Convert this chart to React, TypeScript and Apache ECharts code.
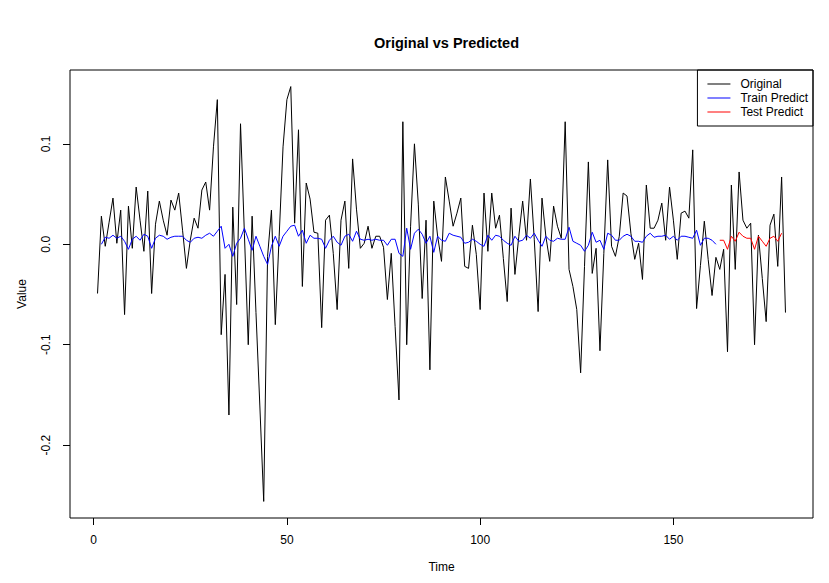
import React, { useEffect, useRef } from "react";
import * as echarts from "echarts";

const original = [
  -0.049, 0.028, -0.002, 0.022, 0.046, 0.001, 0.034, -0.070, 0.038, -0.004,
  0.057, 0.024, -0.007, 0.053, -0.049, 0.020, 0.043, 0.024, 0.009, 0.044,
  0.034, 0.051, 0.014, -0.024, 0.004, 0.026, 0.016, 0.054, 0.062, 0.034,
  0.097, 0.144, -0.090, -0.030, -0.170, 0.037, -0.060, 0.120, 0.011, -0.100,
  0.028, -0.068, -0.161, -0.256, -0.012, 0.034, -0.080, 0.008, 0.097, 0.144,
  0.157, 0.021, 0.114, -0.042, 0.061, 0.045, 0.012, 0.011, -0.083, 0.024,
  0.029, -0.009, -0.065, 0.024, 0.043, -0.024, 0.085, 0.035, -0.004, 0.001,
  0.018, -0.004, 0.008, 0.008, -0.003, -0.055, -0.009, -0.082, -0.155, 0.122,
  -0.100, 0.018, 0.100, 0.040, -0.054, 0.024, -0.125, 0.043, 0.008, -0.017,
  0.067, 0.043, 0.018, 0.031, 0.046, -0.022, -0.024, 0.019, -0.010, -0.065,
  0.051, -0.007, 0.051, 0.016, 0.029, -0.014, -0.057, 0.036, -0.030, 0.008,
  0.043, 0.004, 0.065, 0.005, -0.067, 0.046, 0.008, -0.017, 0.038, 0.018,
  0.006, 0.122, -0.025, -0.042, -0.065, -0.128, -0.022, 0.082, -0.029, -0.004,
  -0.106, -0.009, 0.084, -0.002, -0.012, 0.008, 0.051, 0.048, 0.011, -0.015,
  0.001, -0.035, 0.059, 0.016, 0.016, 0.024, 0.041, 0.004, 0.057, 0.024,
  -0.015, 0.031, 0.033, 0.026, 0.094, -0.064, -0.021, 0.023, -0.015, -0.051,
  -0.013, -0.025, -0.005, -0.107, 0.059, -0.025, 0.072, 0.024, 0.016, 0.021,
  -0.100, 0.009, -0.034, -0.077, 0.019, 0.030, -0.022, 0.067, -0.068,
];

const trainStart = 2;
const trainPredict = [
  0.000, 0.007, 0.006, 0.009, 0.006, 0.008, 0.003, -0.005, 0.005, 0.008,
  0.004, 0.010, 0.008, -0.004, 0.006, 0.009, 0.008, 0.005, 0.007, 0.008,
  0.008, 0.008, 0.004, 0.002, 0.006, 0.007, 0.006, 0.009, 0.011, 0.008,
  0.013, 0.018, -0.004, 0.000, -0.012, 0.001, 0.006, 0.016, 0.005, -0.006,
  0.008, -0.002, -0.012, -0.020, -0.002, 0.008, -0.002, 0.008, 0.013, 0.018,
  0.019, 0.008, 0.014, 0.001, 0.009, 0.006, 0.006, 0.005, -0.004, 0.004,
  0.008, 0.002, -0.001, 0.008, 0.010, 0.003, 0.013, 0.005, 0.004, 0.005,
  0.004, 0.005, 0.004, 0.004, -0.001, 0.005, 0.005, -0.009, -0.012, 0.016,
  -0.005, 0.011, 0.015, 0.010, 0.001, 0.008, -0.008, 0.008, 0.004, 0.003,
  0.011, 0.009, 0.008, 0.007, 0.001, 0.002, 0.005, 0.003, 0.000, -0.002,
  0.009, 0.004, 0.009, 0.008, 0.004, 0.001, -0.001, 0.008, 0.003, 0.004,
  0.009, 0.006, 0.011, 0.004, -0.002, 0.008, 0.004, 0.003, 0.006, 0.005,
  0.005, 0.017, 0.003, 0.001, -0.001, -0.007, -0.001, 0.012, 0.002, 0.004,
  -0.005, 0.011, 0.009, 0.004, 0.004, 0.008, 0.010, 0.008, 0.003, 0.003,
  0.002, 0.008, 0.011, 0.007, 0.008, 0.008, 0.009, 0.005, 0.008, 0.004,
  0.008, 0.008, 0.007, 0.006, 0.014, -0.001, 0.006, 0.006, 0.004, 0.000,
];

const testStart = 162;
const testPredict = [
  0.004, 0.004, -0.005, 0.008, 0.003, 0.012, 0.008, 0.006, 0.006, -0.005,
  0.008, 0.003, -0.002, 0.006, 0.008, 0.003, 0.011,
];

const xTicks = [0, 50, 100, 150];
const yTicks = [-0.2, -0.1, 0.0, 0.1];
const seriesNames = ["Original", "Train Predict", "Test Predict"];

const FONT = "'Liberation Sans', Arial, Helvetica, sans-serif";

export default function App() {
  const ref = useRef<HTMLDivElement>(null);

  useEffect(() => {
    if (!ref.current) return;
    const chart = echarts.init(ref.current, null, { renderer: "svg" });

    const n = original.length;
    const toPairs = (arr: number[], start: number) =>
      arr.map((v, i) => [start + i, v]);
    const all = [...original, ...trainPredict, ...testPredict];
    const yMin0 = Math.min(...all);
    const yMax0 = Math.max(...all);
    const yr = yMax0 - yMin0;
    const xr = n - 1;

    chart.setOption({
      animation: false,
      backgroundColor: "#ffffff",
      title: {
        text: "Original vs Predicted",
        left: 441.5,
        textAlign: "center",
        top: 30,
        textStyle: {
          fontFamily: FONT,
          fontSize: 14.5,
          fontWeight: "bold",
          color: "#000",
        },
      },
      legend: {
        orient: "vertical",
        right: 16,
        top: 70,
        padding: [8, 5, 8, 10],
        itemGap: 2,
        itemWidth: 23,
        itemHeight: 1,
        icon: "rect",
        borderColor: "#000",
        borderWidth: 1,
        borderRadius: 0,
        selectedMode: false,
        itemStyle: { borderWidth: 0 },
        textStyle: {
          fontFamily: FONT,
          fontSize: 12,
          lineHeight: 12,
          color: "#000",
          padding: [0, 0, 0, 5],
        },
        data: seriesNames,
      },
      grid: {
        left: 70,
        right: 16,
        top: 70,
        bottom: 65,
        show: true,
        borderColor: "#000",
        borderWidth: 1,
        backgroundColor: "transparent",
      },
      xAxis: {
        type: "value",
        min: 1 - 0.04 * xr,
        max: n + 0.04 * xr,
        name: "Time",
        nameLocation: "middle",
        nameGap: 43,
        nameTextStyle: { fontFamily: FONT, fontSize: 12, color: "#000" },
        axisLine: { show: false, onZero: false },
        splitLine: { show: false },
        axisTick: {
          show: true,
          inside: false,
          length: 7,
          customValues: xTicks,
          lineStyle: { color: "#000", width: 1 },
        },
        axisLabel: {
          customValues: xTicks,
          margin: 16,
          fontFamily: FONT,
          fontSize: 12,
          color: "#000",
          formatter: (v: number) => String(v),
        },
      },
      yAxis: {
        type: "value",
        min: yMin0 - 0.04 * yr,
        max: yMax0 + 0.04 * yr,
        name: "Value",
        nameLocation: "middle",
        nameGap: 42,
        nameRotate: 90,
        nameTextStyle: { fontFamily: FONT, fontSize: 12, color: "#000" },
        axisLine: { show: false, onZero: false },
        splitLine: { show: false },
        axisTick: {
          show: true,
          inside: false,
          length: 7,
          customValues: yTicks,
          lineStyle: { color: "#000", width: 1 },
        },
        axisLabel: {
          customValues: yTicks,
          rotate: 90,
          margin: 18,
          fontFamily: FONT,
          fontSize: 12,
          color: "#000",
          formatter: (v: number) => v.toFixed(1),
        },
      },
      series: [
        {
          name: seriesNames[0],
          type: "line",
          data: toPairs(original, 1),
          showSymbol: false,
          symbol: "none",
          color: "#000000",
          lineStyle: { color: "#000000", width: 1 },
          z: 2,
        },
        {
          name: seriesNames[1],
          type: "line",
          data: toPairs(trainPredict, trainStart),
          showSymbol: false,
          symbol: "none",
          color: "#0000ff",
          lineStyle: { color: "#0000ff", width: 1 },
          z: 3,
        },
        {
          name: seriesNames[2],
          type: "line",
          data: toPairs(testPredict, testStart),
          showSymbol: false,
          symbol: "none",
          color: "#ff0000",
          lineStyle: { color: "#ff0000", width: 1 },
          z: 4,
        },
      ],
    });

    return () => chart.dispose();
  }, []);

  return (
    <div
      ref={ref}
      style={{
        position: "absolute",
        left: 0,
        top: 0,
        width: 829,
        height: 583,
        background: "#fff",
      }}
    />
  );
}
